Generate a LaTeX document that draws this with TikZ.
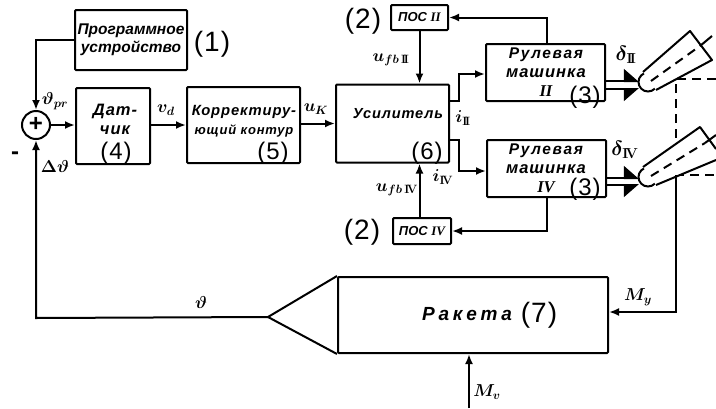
\documentclass[tikz,border=0pt]{standalone}
\usepackage{fontspec}
\usepackage{amsmath}
\usepackage{tikz}
\usetikzlibrary{arrows.meta,positioning,calc}
\setmainfont{Liberation Sans}
\newfontfamily\schemefont[LetterSpace=6]{Liberation Sans}
\newfontfamily\rulfont[LetterSpace=11]{Liberation Sans}
\newfontfamily\widefont[LetterSpace=20]{Liberation Sans}
\newfontfamily\tagfont[LetterSpace=4]{Liberation Sans}
\newcommand{\rom}[1]{{\fontspec{Liberation Serif}\bfseries #1}}

\begin{document}
\begin{tikzpicture}[
  x=1pt, y=-1pt,
  >={Latex[length=10pt,width=8pt]},
  line width=2pt,
  box/.style={draw, rounded corners=1pt, inner sep=0pt, align=center},
  lab/.style={inner sep=0pt, align=center,
              font=\schemefont\bfseries\itshape\fontsize{16.5}{19}\selectfont},
  tagno/.style={inner sep=0pt, font=\tagfont\fontsize{28}{30}\selectfont},
  tagin/.style={inner sep=0pt, font=\tagfont\fontsize{24}{25}\selectfont},
  sym/.style={inner sep=0pt, font=\boldmath\fontsize{18}{20}\selectfont},
  half/.style={-{Triangle[harpoon,#1,length=14pt,width=24pt]}},
  half/.default={}]
\useasboundingbox (0,0) rectangle (716,408);
% blocks of the upper row
\node[box, minimum width=112, minimum height=60,
      font=\bfseries\itshape\fontsize{15.5}{18}\selectfont] (prog) at (131,40) {Программное\\устройство};
\node[draw, circle, minimum size=28, inner sep=0pt] (sum) at (36,125) {};
\node[inner sep=0pt, font=\bfseries\fontsize{24}{24}\selectfont] at (36,124.5) {+};
\node[box, minimum width=74, minimum height=76] (dat) at (113,126) {};
\node[lab] (dattxt) at (115,119) {Дат-\\чик};
\node[box, minimum width=113, minimum height=76] (korr) at (243.5,125) {};
\node[lab] (korrtxt) at (244,121) {\fontsize{14.8}{22}\selectfont Корректиру-\\\fontsize{13}{22}\selectfont ющий контур};
\node[box, minimum width=113, minimum height=78] (usil) at (392.5,123.5) {};
\node[lab] (usiltxt) at (398,114) {\fontsize{14.6}{15}\selectfont Усилитель};
\node[box, minimum width=119, minimum height=57] (rul2) at (545.5,72.5) {};
\node[lab] (rul2txt) at (546,72) {\rulfont\fontsize{15.5}{18}\selectfont Рулевая\\машинка\\\rom{II}};
\node[box, minimum width=119, minimum height=57] (rul4) at (546.5,168.5) {};
\node[lab] (rul4txt) at (546,168) {\rulfont\fontsize{15.5}{18}\selectfont Рулевая\\машинка\\\rom{IV}};
\node[box, minimum width=57, minimum height=25, font=\bfseries\itshape\fontsize{13}{14}\selectfont] (pos2) at (419.5,17.5) {ПОС \rom{II}};
\node[box, minimum width=58, minimum height=26, font=\bfseries\itshape\fontsize{13}{14}\selectfont] (pos4) at (422,231) {ПОС \rom{IV}};
\node[box, minimum width=270, minimum height=76] (raketa) at (473,315) {};
\node[lab] (raketatxt) at (467,314) {\widefont\fontsize{19}{20}\selectfont Ракета};
\coordinate (tip) at (268,317);
\draw (raketa.north west) -- (tip) -- (raketa.south west);
% numbers of the blocks
\node[tagno] (n1) at (212,44) {(1)};
\node[tagno] (n2a) at (363,21) {(2)};
\node[tagno] (n2b) at (362,232) {(2)};
\node[tagin] (n3a) at (585,97) {(3)};
\node[tagin] (n3b) at (585,189) {(3)};
\node[tagin] (n4) at (116,153) {(4)};
\node[tagin] (n5) at (273,153) {(5)};
\node[tagin] (n6) at (427,153) {(6)};
\node[tagno] (n7) at (539,315) {(7)};
% nozzles
\coordinate (link) at (676,175);
\draw[dashed, dash pattern=on 9pt off 6pt] (716,79) -- (676,79) -- (link) -- (716,175);
\coordinate (d2a) at (639,81); \coordinate (d2b) at (639,89);
\coordinate (d4a) at (639,178); \coordinate (d4b) at (639,185);
\node[draw, circle, minimum size=19, inner sep=0pt] (ball2) at (648,82) {};
\node[draw, circle, minimum size=19, inner sep=0pt] (ball4) at (648,177) {};
\draw[fill=white, line join=round] (643,72) -- (690,31) -- (712,60) -- (656,90);
\fill[white] (643,167) -- (700,127) -- (716,149) -- (716,160) -- (656,185) -- cycle;
\draw[line join=round] (643,167) -- (700,127) -- (716,149) (716,160) -- (656,185);
\draw[dashed, dash pattern=on 9pt off 6pt] (651,81) -- (700,46);
\draw (700,46) -- (712,36);
\draw[dashed, dash pattern=on 9pt off 6pt] (651,176) -- (705,143);
\draw (705,143) -- (716,135);
% signal lines
\draw[->] (prog.west) -| (sum.north);
\draw[->] (sum.east) -- (sum -| dat.west);
\draw[->] (dat.east |- korr) -- (korr.west);
\draw[->] (korr.east |- usil) -- (usil.west);
\draw[->] (usil.east |- 0,101) -- (459,101) |- (rul2.west |- 0,74);
\draw[->] (usil.east |- 0,140) -- (459,140) |- (rul4.west |- 0,171);
\draw[->] (rul2.north |- 0,44) ++(1.5,0) |- (pos2.east);
\draw[->] (rul4.south) |- (pos4.east);
\draw[->] (pos2.south) -- (pos2.south |- usil.north);
\draw[->] (pos4.north -| pos2.south) -- (pos2.south |- usil.south);
\draw[half] (rul2.east |- d2a) -- (d2a);
\draw[half=swap] (rul2.east |- d2b) -- (d2b);
\draw[half] (rul4.east |- d4a) -- (d4a);
\draw[half=swap] (rul4.east |- d4b) -- (d4b);
\draw[->] (tip) -- (36,318) -- (sum.south);
\draw[->] (link) |- (raketa.east |- 0,312);
\coordinate (mvin) at (469,408);
\draw[->] (mvin) -- (mvin |- raketa.south);
% signal names
\node[sym] (lpr) at (55,101) {$\vartheta_{pr}$};
\node[sym] (ldth) at (55,166) {$\Delta\vartheta$};
\node[inner sep=0pt, font=\bfseries\fontsize{24}{24}\selectfont] (lminus) at (15,156) {-};
\node[sym] (lvd) at (166,110) {$v_{d}$};
\node[sym] (luk) at (316,109) {$u_{\kern-.5pt K}$};
\node[sym] (lfb2) at (391,60) {$u_{fb\,\mathbf{I\!I}}$};
\node[sym] (lfb4) at (397,190) {$u_{fb\,\mathbf{I\!V}}$};
\node[sym] (li2) at (463,118) {$i_{\mathbf{I\!I}}$};
\node[sym] (li4) at (443,177) {$i_{\mathbf{I\!V}}$};
\node[sym, font=\boldmath\fontsize{20}{22}\selectfont] (ld2) at (626,55) {$\delta_{\mathbf{I\!I}}$};
\node[sym, font=\boldmath\fontsize{20}{22}\selectfont] (ld4) at (625,150) {$\delta_{\mathbf{I\!V}}$};
\node[sym] (lmy) at (638,297) {$M_{y}$};
\node[sym] (lmv) at (487,392) {$M_{v}$};
\node[sym] (lth) at (201,302) {$\vartheta$};
\end{tikzpicture}
\end{document}
